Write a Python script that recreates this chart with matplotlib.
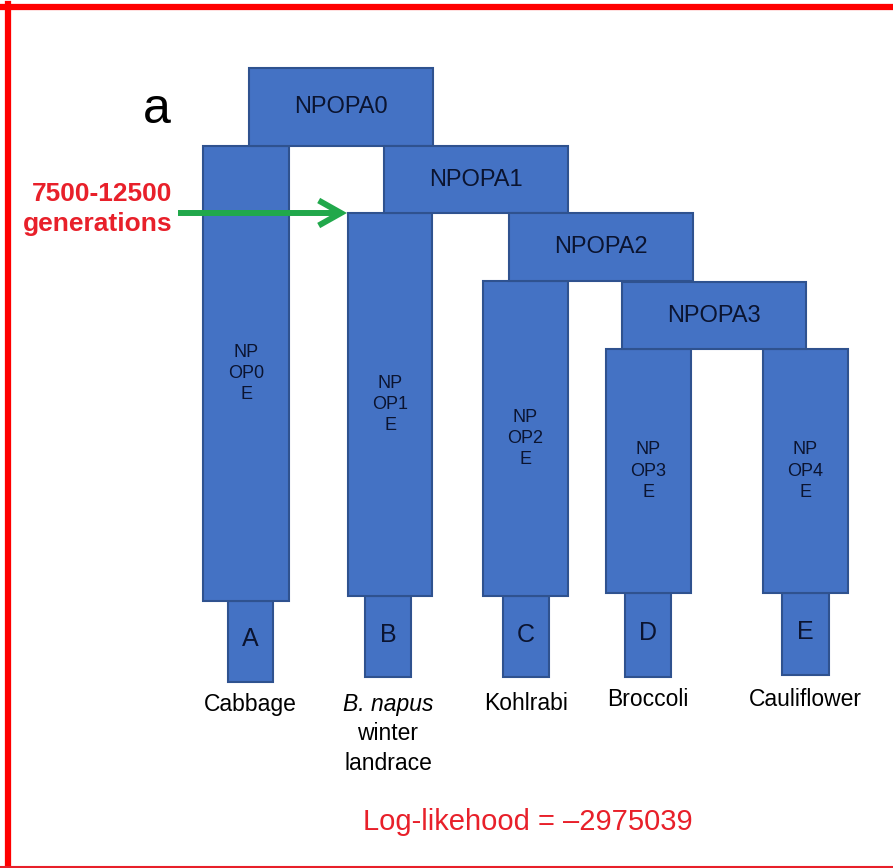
import matplotlib
matplotlib.use("Agg")
import matplotlib.pyplot as plt
from matplotlib.patches import Rectangle
from matplotlib.lines import Line2D

plt.rcParams['font.family'] = ['Liberation Sans', 'DejaVu Sans']

# Ancestral populations (horizontal bars), in canvas pixels
anc_names = ["NPOPA0", "NPOPA1", "NPOPA2", "NPOPA3"]
anc_left = [249, 384, 509, 622]
anc_right = [433, 568, 693, 806]
anc_top = [68, 146, 213, 282]
anc_bottom = [146, 213, 281, 349]

# Extant effective populations (tall columns)
col_names = ["NP\nOP0\nE", "NP\nOP1\nE", "NP\nOP2\nE", "NP\nOP3\nE", "NP\nOP4\nE"]
col_left = [203, 348, 483, 606, 763]
col_right = [289, 432, 568, 691, 848]
col_top = [146, 213, 281, 349, 349]
col_bottom = [601, 596, 596, 593, 593]

# Sampled populations (narrow boxes at the tips)
leaf_names = ["A", "B", "C", "D", "E"]
leaf_left = [228, 365, 503, 625, 782]
leaf_right = [273, 411, 549, 671, 829]
leaf_bottom = [682, 677, 677, 677, 675]

# Crop type labels under each tip
crop_labels = ["Cabbage", None, "Kohlrabi", "Broccoli", "Cauliflower"]
crop_label_y = [705, 704, 704, 700, 699]

fill_blue = "#4472c4"
edge_blue = "#2f528f"
ink = "#0b1430"
red = "#e8202a"
green = "#21a84b"

W, H = 893, 868
fig = plt.figure(figsize=(W / 100, H / 100), dpi=100)
ax = fig.add_axes([0, 0, 1, 1])
ax.set_xlim(0, W)
ax.set_ylim(H, 0)
ax.axis("off")

# tips first so the columns sit on top of them
for name, l, r, top, b in zip(leaf_names, leaf_left, leaf_right, col_bottom, leaf_bottom):
    ax.add_patch(Rectangle((l, top), r - l, b - top, facecolor=fill_blue,
                           edgecolor=edge_blue, lw=1.5, zorder=1))
    ax.text((l + r) / 2, (top + b) / 2 - 2, name, ha="center", va="center",
            fontsize=18, color=ink, zorder=5)

for name, l, r, t, b in zip(col_names, col_left, col_right, col_top, col_bottom):
    ax.add_patch(Rectangle((l, t), r - l, b - t, facecolor=fill_blue,
                           edgecolor=edge_blue, lw=1.5, zorder=2))
    ax.text((l + r) / 2, (t + b) / 2, name, ha="center", va="center",
            fontsize=13, color=ink, linespacing=1.32, zorder=5)

for name, l, r, t, b in zip(anc_names, anc_left, anc_right, anc_top, anc_bottom):
    ax.add_patch(Rectangle((l, t), r - l, b - t, facecolor=fill_blue,
                           edgecolor=edge_blue, lw=1.5, zorder=3))
    ax.text((l + r) / 2, (t + b) / 2, name, ha="center", va="center",
            fontsize=17, color=ink, zorder=5)

# crop names
for name, l, r, y in zip(crop_labels, leaf_left, leaf_right, crop_label_y):
    if name is None:
        continue
    ax.text((l + r) / 2, y, name, ha="center", va="center", fontsize=16.5, color="black")

bx = (leaf_left[1] + leaf_right[1]) / 2
ax.text(bx, 704, "B. napus", ha="center", va="center", fontsize=16.5,
        style="italic", color="black")
ax.text(bx, 733, "winter", ha="center", va="center", fontsize=16.5, color="black")
ax.text(bx, 763, "landrace", ha="center", va="center", fontsize=16.5, color="black")

# panel letter
ax.text(157, 110, "a", ha="center", va="center", fontsize=36, color="black")

# split-time annotation
arrow_y = anc_bottom[1]
ax.annotate("", xy=(col_left[1] - 1, arrow_y), xytext=(178, arrow_y),
            arrowprops=dict(arrowstyle="->,head_length=0.8,head_width=0.45",
                            color=green, lw=4.3, shrinkA=0, shrinkB=0,
                            mutation_scale=20, capstyle="butt", joinstyle="miter"),
            zorder=6)
ax.text(172, 194, "7500-12500", ha="right", va="center", fontsize=19,
        fontweight="bold", color=red)
ax.text(172, 224, "generations", ha="right", va="center", fontsize=19,
        fontweight="bold", color=red)

ax.text(528, 822, "Log-likehood = \u20132975039", ha="center", va="center",
        fontsize=21, color=red)

# outer frame
fig.add_artist(Line2D([0, 1], [1 - 7 / H, 1 - 7 / H], color="#ff0000", lw=4.5,
                      transform=fig.transFigure))
fig.add_artist(Line2D([8 / W, 8 / W], [0, 1 - 4 / H], color="#ff0000", lw=4.5,
                      transform=fig.transFigure))
fig.add_artist(Line2D([0, 1], [1.2 / H, 1.2 / H], color=red, lw=1.5,
                      transform=fig.transFigure))

fig.savefig("out.png", dpi=100, facecolor="white")
